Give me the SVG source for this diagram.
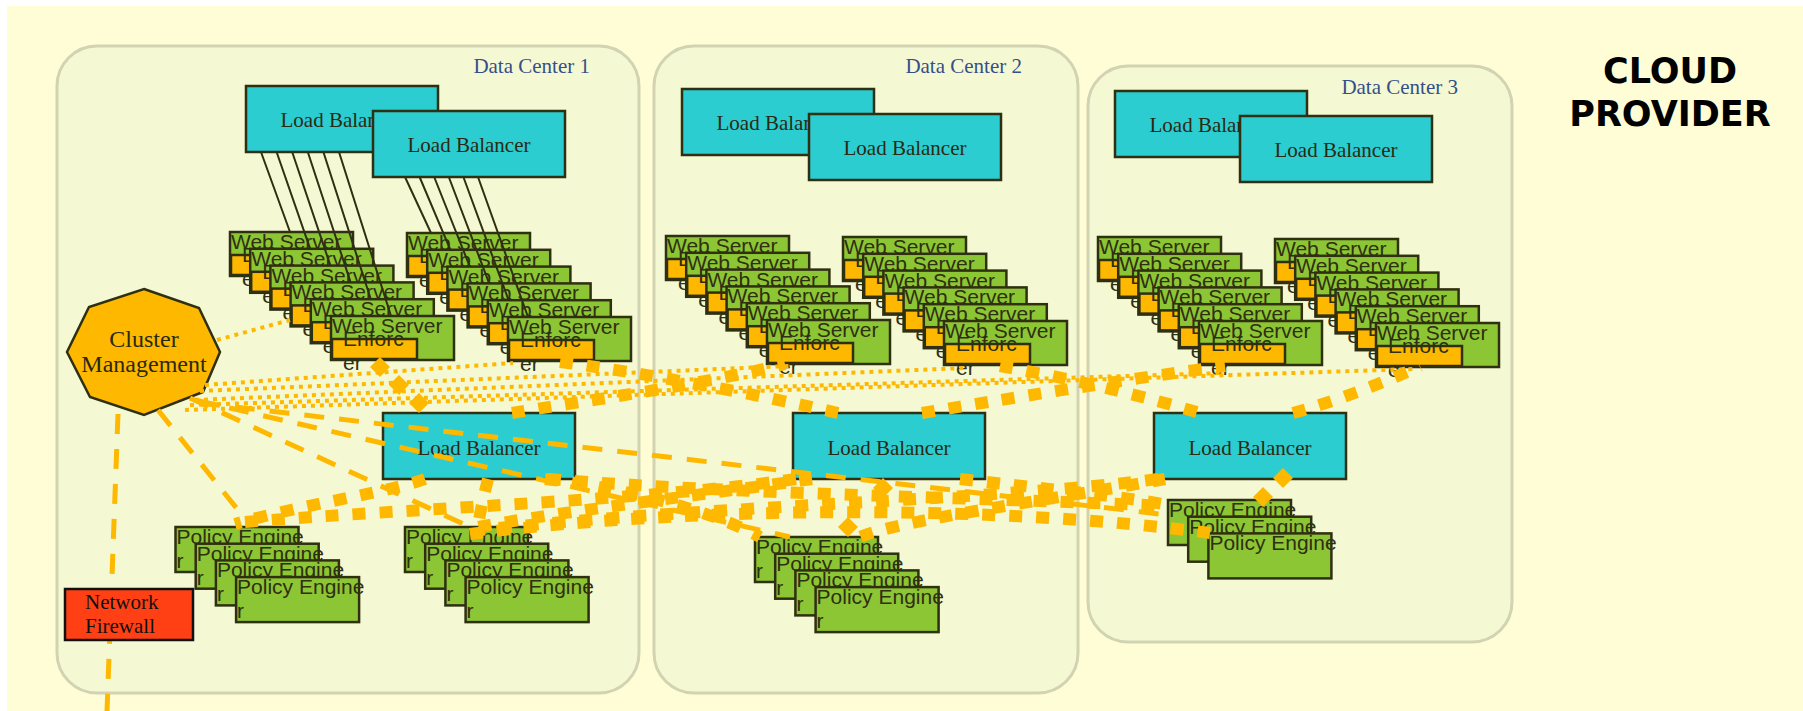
<svg xmlns="http://www.w3.org/2000/svg" width="1803" height="711" viewBox="0 0 1803 711">
<defs>
<style>
.bg{fill:#FFFDD5}
.dc{fill:#F4F9D3;stroke:#D1D3B2;stroke-width:3}
.dcl{font-family:"Liberation Serif","Times New Roman",serif;font-size:21px;fill:#34508A;text-anchor:end}
.title{font-family:"DejaVu Sans",Verdana,sans-serif;font-weight:bold;font-size:35px;fill:#000;text-anchor:middle}
.lb{fill:#2BCDD1;stroke:#2F2F12;stroke-width:2.5}
.lbt{font-family:"Liberation Serif","Times New Roman",serif;font-size:21px;fill:#2A2A12;text-anchor:middle}
.card{fill:#8DC634;stroke:#2F2F12;stroke-width:2.5}
.enf{fill:#FFB800;stroke:#2F2F12;stroke-width:2.5}
.t{font-family:"Liberation Sans",Arial,sans-serif;font-size:21px;fill:#2F2F12}
.cm{fill:#FFB800;stroke:#2F2F12;stroke-width:2.5}
.cmt{font-family:"Liberation Serif","Times New Roman",serif;font-size:24px;fill:#2A2A12;text-anchor:middle}
.fw{fill:#FF4015;stroke:#111;stroke-width:2.5}
.fwt{font-family:"Liberation Serif","Times New Roman",serif;font-size:21px;fill:#111}
.wire{stroke:#2F2F12;stroke-width:2;fill:none}
.thin{stroke:#FFB800;stroke-width:4;stroke-dasharray:4 5;fill:none}
.dash{stroke:#FFB800;stroke-width:5;stroke-dasharray:20 15;fill:none}
.thick{stroke:#FFB800;stroke-width:12;stroke-dasharray:13 14;fill:none}
.dmd{fill:none;stroke:none;marker-start:url(#diamond);marker-mid:url(#diamond);marker-end:url(#diamond)}
</style>
<marker id="diamond" viewBox="-10 -10 20 20" markerWidth="20" markerHeight="20" markerUnits="userSpaceOnUse" refX="0" refY="0" orient="0">
<path d="M0,-10 L10,0 L0,10 L-10,0Z" fill="#FFB800"/>
</marker>
</defs>

<rect class="bg" x="7" y="6" width="1796" height="705"/>

<!-- data centers -->
<g id="dc1"><rect class="dc" x="57" y="46" width="582" height="647" rx="40"/><text class="dcl" x="590" y="73">Data Center 1</text></g>
<g id="dc2"><rect class="dc" x="654" y="46" width="424" height="647" rx="40"/><text class="dcl" x="1022" y="73">Data Center 2</text></g>
<g id="dc3"><rect class="dc" x="1088" y="66" width="424" height="576" rx="40"/><text class="dcl" x="1458" y="94">Data Center 3</text></g>

<g id="title"><text class="title" x="1670" y="83">CLOUD</text><text class="title" x="1670" y="126">PROVIDER</text></g>

<!-- front load balancers -->
<g id="lb1a"><rect class="lb" x="246" y="86" width="192" height="66"/><text class="lbt" x="342" y="127">Load Balancer</text></g>
<g id="lb1b"><rect class="lb" x="373" y="111" width="192" height="66"/><text class="lbt" x="469" y="152">Load Balancer</text></g>
<g id="lb2a"><rect class="lb" x="682" y="89" width="192" height="66"/><text class="lbt" x="778" y="130">Load Balancer</text></g>
<g id="lb2b"><rect class="lb" x="809" y="114" width="192" height="66"/><text class="lbt" x="905" y="155">Load Balancer</text></g>
<g id="lb3a"><rect class="lb" x="1115" y="91" width="192" height="66"/><text class="lbt" x="1211" y="132">Load Balancer</text></g>
<g id="lb3b"><rect class="lb" x="1240" y="116" width="192" height="66"/><text class="lbt" x="1336" y="157">Load Balancer</text></g>

<!-- web servers, DC1 left stack -->
<g id="ws1a-1" transform="translate(230,232)"><rect class="card" width="123" height="44"/><text class="t" x="1" y="17">Web Server</text><rect class="enf" x="1" y="23" width="85" height="20"/><text class="t" x="12" y="30">Enforc</text><text class="t" x="12" y="54">er</text></g>
<g id="ws1a-2" transform="translate(250.2,248.8)"><rect class="card" width="123" height="44"/><text class="t" x="1" y="17">Web Server</text><rect class="enf" x="1" y="23" width="85" height="20"/><text class="t" x="12" y="30">Enforc</text><text class="t" x="12" y="54">er</text></g>
<g id="ws1a-3" transform="translate(270.4,265.6)"><rect class="card" width="123" height="44"/><text class="t" x="1" y="17">Web Server</text><rect class="enf" x="1" y="23" width="85" height="20"/><text class="t" x="12" y="30">Enforc</text><text class="t" x="12" y="54">er</text></g>
<g id="ws1a-4" transform="translate(290.6,282.4)"><rect class="card" width="123" height="44"/><text class="t" x="1" y="17">Web Server</text><rect class="enf" x="1" y="23" width="85" height="20"/><text class="t" x="12" y="30">Enforc</text><text class="t" x="12" y="54">er</text></g>
<g id="ws1a-5" transform="translate(310.8,299.2)"><rect class="card" width="123" height="44"/><text class="t" x="1" y="17">Web Server</text><rect class="enf" x="1" y="23" width="85" height="20"/><text class="t" x="12" y="30">Enforc</text><text class="t" x="12" y="54">er</text></g>
<g id="ws1a-6" transform="translate(331,316)"><rect class="card" width="123" height="44"/><text class="t" x="1" y="17">Web Server</text><rect class="enf" x="1" y="23" width="85" height="20"/><text class="t" x="12" y="30">Enforc</text><text class="t" x="12" y="54">er</text></g>

<!-- web servers, DC1 right stack -->
<g id="ws1b-1" transform="translate(407,233)"><rect class="card" width="123" height="44"/><text class="t" x="1" y="17">Web Server</text><rect class="enf" x="1" y="23" width="85" height="20"/><text class="t" x="12" y="30">Enforc</text><text class="t" x="12" y="54">er</text></g>
<g id="ws1b-2" transform="translate(427.2,249.8)"><rect class="card" width="123" height="44"/><text class="t" x="1" y="17">Web Server</text><rect class="enf" x="1" y="23" width="85" height="20"/><text class="t" x="12" y="30">Enforc</text><text class="t" x="12" y="54">er</text></g>
<g id="ws1b-3" transform="translate(447.4,266.6)"><rect class="card" width="123" height="44"/><text class="t" x="1" y="17">Web Server</text><rect class="enf" x="1" y="23" width="85" height="20"/><text class="t" x="12" y="30">Enforc</text><text class="t" x="12" y="54">er</text></g>
<g id="ws1b-4" transform="translate(467.6,283.4)"><rect class="card" width="123" height="44"/><text class="t" x="1" y="17">Web Server</text><rect class="enf" x="1" y="23" width="85" height="20"/><text class="t" x="12" y="30">Enforc</text><text class="t" x="12" y="54">er</text></g>
<g id="ws1b-5" transform="translate(487.8,300.2)"><rect class="card" width="123" height="44"/><text class="t" x="1" y="17">Web Server</text><rect class="enf" x="1" y="23" width="85" height="20"/><text class="t" x="12" y="30">Enforc</text><text class="t" x="12" y="54">er</text></g>
<g id="ws1b-6" transform="translate(508,317)"><rect class="card" width="123" height="44"/><text class="t" x="1" y="17">Web Server</text><rect class="enf" x="1" y="23" width="85" height="20"/><text class="t" x="12" y="30">Enforc</text><text class="t" x="12" y="54">er</text></g>

<!-- web servers, DC2 left stack -->
<g id="ws2a-1" transform="translate(666,236)"><rect class="card" width="123" height="44"/><text class="t" x="1" y="17">Web Server</text><rect class="enf" x="1" y="23" width="85" height="20"/><text class="t" x="12" y="30">Enforc</text><text class="t" x="12" y="54">er</text></g>
<g id="ws2a-2" transform="translate(686.2,252.8)"><rect class="card" width="123" height="44"/><text class="t" x="1" y="17">Web Server</text><rect class="enf" x="1" y="23" width="85" height="20"/><text class="t" x="12" y="30">Enforc</text><text class="t" x="12" y="54">er</text></g>
<g id="ws2a-3" transform="translate(706.4,269.6)"><rect class="card" width="123" height="44"/><text class="t" x="1" y="17">Web Server</text><rect class="enf" x="1" y="23" width="85" height="20"/><text class="t" x="12" y="30">Enforc</text><text class="t" x="12" y="54">er</text></g>
<g id="ws2a-4" transform="translate(726.6,286.4)"><rect class="card" width="123" height="44"/><text class="t" x="1" y="17">Web Server</text><rect class="enf" x="1" y="23" width="85" height="20"/><text class="t" x="12" y="30">Enforc</text><text class="t" x="12" y="54">er</text></g>
<g id="ws2a-5" transform="translate(746.8,303.2)"><rect class="card" width="123" height="44"/><text class="t" x="1" y="17">Web Server</text><rect class="enf" x="1" y="23" width="85" height="20"/><text class="t" x="12" y="30">Enforc</text><text class="t" x="12" y="54">er</text></g>
<g id="ws2a-6" transform="translate(767,320)"><rect class="card" width="123" height="44"/><text class="t" x="1" y="17">Web Server</text><rect class="enf" x="1" y="23" width="85" height="20"/><text class="t" x="12" y="30">Enforc</text><text class="t" x="12" y="54">er</text></g>

<!-- web servers, DC2 right stack -->
<g id="ws2b-1" transform="translate(843,237)"><rect class="card" width="123" height="44"/><text class="t" x="1" y="17">Web Server</text><rect class="enf" x="1" y="23" width="85" height="20"/><text class="t" x="12" y="30">Enforc</text><text class="t" x="12" y="54">er</text></g>
<g id="ws2b-2" transform="translate(863.2,253.8)"><rect class="card" width="123" height="44"/><text class="t" x="1" y="17">Web Server</text><rect class="enf" x="1" y="23" width="85" height="20"/><text class="t" x="12" y="30">Enforc</text><text class="t" x="12" y="54">er</text></g>
<g id="ws2b-3" transform="translate(883.4,270.6)"><rect class="card" width="123" height="44"/><text class="t" x="1" y="17">Web Server</text><rect class="enf" x="1" y="23" width="85" height="20"/><text class="t" x="12" y="30">Enforc</text><text class="t" x="12" y="54">er</text></g>
<g id="ws2b-4" transform="translate(903.6,287.4)"><rect class="card" width="123" height="44"/><text class="t" x="1" y="17">Web Server</text><rect class="enf" x="1" y="23" width="85" height="20"/><text class="t" x="12" y="30">Enforc</text><text class="t" x="12" y="54">er</text></g>
<g id="ws2b-5" transform="translate(923.8,304.2)"><rect class="card" width="123" height="44"/><text class="t" x="1" y="17">Web Server</text><rect class="enf" x="1" y="23" width="85" height="20"/><text class="t" x="12" y="30">Enforc</text><text class="t" x="12" y="54">er</text></g>
<g id="ws2b-6" transform="translate(944,321)"><rect class="card" width="123" height="44"/><text class="t" x="1" y="17">Web Server</text><rect class="enf" x="1" y="23" width="85" height="20"/><text class="t" x="12" y="30">Enforc</text><text class="t" x="12" y="54">er</text></g>

<!-- web servers, DC3 left stack -->
<g id="ws3a-1" transform="translate(1098,237)"><rect class="card" width="123" height="44"/><text class="t" x="1" y="17">Web Server</text><rect class="enf" x="1" y="23" width="85" height="20"/><text class="t" x="12" y="30">Enforc</text><text class="t" x="12" y="54">er</text></g>
<g id="ws3a-2" transform="translate(1118.2,253.8)"><rect class="card" width="123" height="44"/><text class="t" x="1" y="17">Web Server</text><rect class="enf" x="1" y="23" width="85" height="20"/><text class="t" x="12" y="30">Enforc</text><text class="t" x="12" y="54">er</text></g>
<g id="ws3a-3" transform="translate(1138.4,270.6)"><rect class="card" width="123" height="44"/><text class="t" x="1" y="17">Web Server</text><rect class="enf" x="1" y="23" width="85" height="20"/><text class="t" x="12" y="30">Enforc</text><text class="t" x="12" y="54">er</text></g>
<g id="ws3a-4" transform="translate(1158.6,287.4)"><rect class="card" width="123" height="44"/><text class="t" x="1" y="17">Web Server</text><rect class="enf" x="1" y="23" width="85" height="20"/><text class="t" x="12" y="30">Enforc</text><text class="t" x="12" y="54">er</text></g>
<g id="ws3a-5" transform="translate(1178.8,304.2)"><rect class="card" width="123" height="44"/><text class="t" x="1" y="17">Web Server</text><rect class="enf" x="1" y="23" width="85" height="20"/><text class="t" x="12" y="30">Enforc</text><text class="t" x="12" y="54">er</text></g>
<g id="ws3a-6" transform="translate(1199,321)"><rect class="card" width="123" height="44"/><text class="t" x="1" y="17">Web Server</text><rect class="enf" x="1" y="23" width="85" height="20"/><text class="t" x="12" y="30">Enforc</text><text class="t" x="12" y="54">er</text></g>

<!-- web servers, DC3 right stack -->
<g id="ws3b-1" transform="translate(1275,239)"><rect class="card" width="123" height="44"/><text class="t" x="1" y="17">Web Server</text><rect class="enf" x="1" y="23" width="85" height="20"/><text class="t" x="12" y="30">Enforc</text><text class="t" x="12" y="54">er</text></g>
<g id="ws3b-2" transform="translate(1295.2,255.8)"><rect class="card" width="123" height="44"/><text class="t" x="1" y="17">Web Server</text><rect class="enf" x="1" y="23" width="85" height="20"/><text class="t" x="12" y="30">Enforc</text><text class="t" x="12" y="54">er</text></g>
<g id="ws3b-3" transform="translate(1315.4,272.6)"><rect class="card" width="123" height="44"/><text class="t" x="1" y="17">Web Server</text><rect class="enf" x="1" y="23" width="85" height="20"/><text class="t" x="12" y="30">Enforc</text><text class="t" x="12" y="54">er</text></g>
<g id="ws3b-4" transform="translate(1335.6,289.4)"><rect class="card" width="123" height="44"/><text class="t" x="1" y="17">Web Server</text><rect class="enf" x="1" y="23" width="85" height="20"/><text class="t" x="12" y="30">Enforc</text><text class="t" x="12" y="54">er</text></g>
<g id="ws3b-5" transform="translate(1355.8,306.2)"><rect class="card" width="123" height="44"/><text class="t" x="1" y="17">Web Server</text><rect class="enf" x="1" y="23" width="85" height="20"/><text class="t" x="12" y="30">Enforc</text><text class="t" x="12" y="54">er</text></g>
<g id="ws3b-6" transform="translate(1376,323)"><rect class="card" width="123" height="44"/><text class="t" x="1" y="17">Web Server</text><rect class="enf" x="1" y="23" width="85" height="20"/><text class="t" x="12" y="30">Enforc</text><text class="t" x="12" y="54">er</text></g>

<!-- load balancer to web server links, DC1 -->
<g id="wires">
<path class="wire" d="M261,152 L290,232 M276.6,152 L310.2,248.8 M292.2,152 L330.4,265.6 M307.8,152 L350.6,282.4 M323.4,152 L370.8,299.2 M339,152 L391,316"/>
<path class="wire" d="M405,177 L431,233 M419.6,177 L450.4,249.8 M434.2,177 L469.8,266.6 M448.8,177 L489.2,283.4 M463.4,177 L508.6,300.2 M478,177 L528,317"/>
</g>

<!-- inner load balancers -->
<g id="lb1c"><rect class="lb" x="383" y="413" width="192" height="66"/><text class="lbt" x="479" y="455">Load Balancer</text></g>
<g id="lb2c"><rect class="lb" x="793" y="413" width="192" height="66"/><text class="lbt" x="889" y="455">Load Balancer</text></g>
<g id="lb3c"><rect class="lb" x="1154" y="413" width="192" height="66"/><text class="lbt" x="1250" y="455">Load Balancer</text></g>

<!-- policy engines, DC1 left stack -->
<g id="pe1a-1" transform="translate(175.5,527)"><rect class="card" width="123" height="45"/><text class="t" x="1" y="17">Policy Engine</text><text class="t" x="1" y="41">r</text></g>
<g id="pe1a-2" transform="translate(195.7,543.7)"><rect class="card" width="123" height="45"/><text class="t" x="1" y="17">Policy Engine</text><text class="t" x="1" y="41">r</text></g>
<g id="pe1a-3" transform="translate(215.9,560.4)"><rect class="card" width="123" height="45"/><text class="t" x="1" y="17">Policy Engine</text><text class="t" x="1" y="41">r</text></g>
<g id="pe1a-4" transform="translate(236.1,577.1)"><rect class="card" width="123" height="45"/><text class="t" x="1" y="17">Policy Engine</text><text class="t" x="1" y="41">r</text></g>

<!-- policy engines, DC1 right stack -->
<g id="pe1b-1" transform="translate(405,527)"><rect class="card" width="123" height="45"/><text class="t" x="1" y="17">Policy Engine</text><text class="t" x="1" y="41">r</text></g>
<g id="pe1b-2" transform="translate(425.2,543.7)"><rect class="card" width="123" height="45"/><text class="t" x="1" y="17">Policy Engine</text><text class="t" x="1" y="41">r</text></g>
<g id="pe1b-3" transform="translate(445.4,560.4)"><rect class="card" width="123" height="45"/><text class="t" x="1" y="17">Policy Engine</text><text class="t" x="1" y="41">r</text></g>
<g id="pe1b-4" transform="translate(465.6,577.1)"><rect class="card" width="123" height="45"/><text class="t" x="1" y="17">Policy Engine</text><text class="t" x="1" y="41">r</text></g>

<!-- policy engines, DC2 -->
<g id="pe2-1" transform="translate(755,537)"><rect class="card" width="123" height="45"/><text class="t" x="1" y="17">Policy Engine</text><text class="t" x="1" y="41">r</text></g>
<g id="pe2-2" transform="translate(775.2,553.7)"><rect class="card" width="123" height="45"/><text class="t" x="1" y="17">Policy Engine</text><text class="t" x="1" y="41">r</text></g>
<g id="pe2-3" transform="translate(795.4,570.4)"><rect class="card" width="123" height="45"/><text class="t" x="1" y="17">Policy Engine</text><text class="t" x="1" y="41">r</text></g>
<g id="pe2-4" transform="translate(815.6,587.1)"><rect class="card" width="123" height="45"/><text class="t" x="1" y="17">Policy Engine</text><text class="t" x="1" y="41">r</text></g>

<!-- policy engines, DC3 -->
<g id="pe3-1" transform="translate(1168,500)"><rect class="card" width="123" height="45"/><text class="t" x="1" y="17">Policy Engine</text></g>
<g id="pe3-2" transform="translate(1188.2,516.7)"><rect class="card" width="123" height="45"/><text class="t" x="1" y="17">Policy Engine</text></g>
<g id="pe3-3" transform="translate(1208.4,533.4)"><rect class="card" width="123" height="45"/><text class="t" x="1" y="17">Policy Engine</text></g>

<!-- cluster management -->
<g id="cluster-mgmt"><polygon class="cm" points="144,289 199,308 220,352 203,392 144,415 90,397 67,352 89,307"/><text class="cmt" x="144" y="347">Cluster</text><text class="cmt" x="144" y="372">Management</text></g>

<!-- connectors -->
<g id="connectors">
<!-- management to enforcers -->
<path class="thin" d="M217,340 L290,320"/>
<path class="thin" d="M205,385 L513,363"/>
<path class="thin" d="M200,391 L790,366"/>
<path class="thin" d="M195,400 L965,368"/>
<path class="thin" d="M190,405 L1223,373"/>
<path class="thin" d="M185,410 L1413,369"/>
<!-- management to policy engines -->
<path class="dash" d="M158,410 L238,510"/>
<path class="dash" d="M118,414 L107,711"/>
<path class="dash" d="M190,398 L470,527"/>
<path class="dash" d="M195,400 L790,537"/>
<path class="dash" d="M200,403 L1168,515"/>
<!-- load balancers to enforcers -->
<path class="thick" d="M560,362 C640,372 760,395 838,413"/>
<path class="thick" d="M512,413 C590,400 700,385 785,364"/>
<path class="thick" d="M922,413 C1000,400 1120,380 1225,366"/>
<path class="thick" d="M1000,366 C1070,378 1150,398 1200,413"/>
<path class="thick" d="M1293,413 C1340,400 1390,380 1420,366"/>
<!-- load balancers to policy engines -->
<path class="thick" d="M425,479 C390,492 300,505 235,524"/>
<path class="thick" d="M488,479 C484,495 480,512 478,527"/>
<path class="thick" d="M245,522 C420,508 650,500 796,479"/>
<path class="thick" d="M812,479 C700,495 560,512 478,527"/>
<path class="thick" d="M545,479 C640,490 720,515 760,537"/>
<path class="thick" d="M1158,479 C1000,500 700,506 480,530"/>
<path class="thick" d="M960,479 C1040,488 1120,496 1168,505"/>
<path class="thick" d="M470,534 C700,505 1000,505 1210,533"/>
<path class="thick" d="M1165,479 C1050,500 900,520 860,537"/>
<path class="thick" d="M548,479 C750,495 1000,498 1168,506"/>
<!-- diamond links -->
<path class="dmd" d="M380,367 L399,385 L419,403"/>
<path class="dmd" d="M883,488 L848,527"/>
<path class="dmd" d="M1283,478 L1263,497"/>
</g>

<!-- network firewall -->
<g id="firewall"><rect class="fw" x="65" y="589" width="128" height="51"/><text class="fwt" x="85" y="609">Network</text><text class="fwt" x="85" y="633">Firewall</text></g>
</svg>
